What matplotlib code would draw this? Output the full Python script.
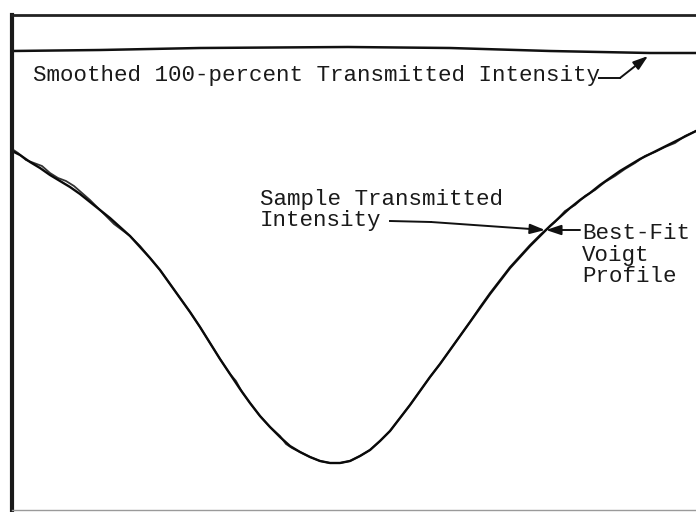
import matplotlib
matplotlib.use("Agg")
import matplotlib.pyplot as plt

# ---- data (position, transmitted intensity; arbitrary units) ----
fit_x = [0, 8, 18, 28, 38, 48, 58, 68, 78, 88, 98, 108, 118, 128, 138, 148, 158, 168,
         178, 188, 198, 208, 218, 228, 238, 248, 258, 268, 278, 288, 298, 308, 318, 328,
         338, 348, 358, 368, 378, 388, 398, 408, 418, 428, 438, 448, 458, 468, 478, 488,
         498, 508, 518, 528, 538, 548, 558, 568, 578, 588, 598, 608, 618, 628, 638, 648,
         658, 668, 678, 684]
fit_y = [359, 355, 348, 342, 335, 329, 323, 316, 308, 300, 292, 283, 274, 263, 252, 240,
         226, 212, 198, 183, 167, 151, 136, 121, 107, 94, 83, 73, 64, 58, 53, 49, 47, 47,
         49, 54, 60, 69, 79, 92, 105, 119, 133, 146, 160, 174, 188, 202, 216, 229, 242,
         253, 264, 274, 284, 293, 302, 310, 317, 325, 332, 339, 345, 351, 356, 361, 366,
         371, 376, 379]

sample_x = [0, 6, 14, 22, 30, 38, 46, 54, 62, 70, 78, 86, 94, 102, 110, 118, 128, 138,
            148, 158, 168, 178, 188, 198, 208, 218, 224, 230, 238, 248, 258, 268, 274,
            280, 288, 298, 308, 318, 328, 338, 348, 358, 368, 378, 388, 398, 408, 418,
            428, 438, 448, 458, 468, 478, 488, 498, 508, 518, 528, 536, 543, 553, 563,
            573, 583, 593, 603, 613, 623, 633, 643, 653, 663, 673, 684]
sample_y = [361, 357, 350, 347, 344, 337, 332, 329, 324, 317, 310, 302, 294, 286, 280,
            274, 264, 252, 240, 226, 212, 198, 183, 167, 151, 136, 129, 118, 107, 94, 83,
            74, 66, 62, 58, 53, 49, 47, 47, 49, 54, 60, 69, 79, 92, 105, 119, 133, 146,
            160, 174, 188, 203, 217, 230, 243, 254, 265, 275, 282, 288, 299, 305, 314,
            320, 328, 334, 341, 347, 354, 358, 363, 367, 374, 379]

ref_x = [0, 88, 188, 336, 438, 538, 638, 684]
ref_y = [459, 460, 462, 463, 462, 459, 457, 457]

label_ref = "Smoothed 100-percent Transmitted Intensity"
label_sample = "Sample Transmitted\nIntensity"
label_fit = "Best-Fit\nVoigt\nProfile"

# ---- figure ----
W, H = 696, 512
fig = plt.figure(figsize=(W / 100, H / 100), dpi=100)
ax = fig.add_axes([12 / W, 2 / H, 684 / W, 495 / H])
ax.set_xlim(0, 684)
ax.set_ylim(0, 495)
ax.set_xticks([])
ax.set_yticks([])
ax.spines["right"].set_visible(False)
ax.spines["left"].set_linewidth(3.0)
ax.spines["left"].set_color("#1a1a1a")
ax.spines["top"].set_linewidth(2.0)
ax.spines["top"].set_color("#222222")
ax.spines["bottom"].set_linewidth(1.0)
ax.spines["bottom"].set_color("#9a9a9a")

ax.plot(ref_x, ref_y, color="#111111", lw=1.8, solid_capstyle="butt")
ax.plot(sample_x, sample_y, color="#333333", lw=1.3)
ax.plot(fit_x, fit_y, color="#0a0a0a", lw=1.7)

font = dict(family=["Liberation Mono", "DejaVu Sans Mono"], fontsize=16.2,
            color="#1a1a1a")

ax.text(21, 434, label_ref, ha="left", va="center", **font)
ax.text(248, 300, label_sample, ha="left", va="center", linespacing=1.0, **font)
ax.text(570, 255, label_fit, ha="left", va="center", linespacing=1.05, **font)

arrow = dict(arrowstyle="-|>,head_length=0.9,head_width=0.3", color="#111111", lw=1.4,
             shrinkA=0, shrinkB=0)

# leader to the 100-percent line
ax.plot([587, 608], [432, 432], color="#111111", lw=1.4)
ax.annotate("", xy=(636, 454), xytext=(608, 432), arrowprops=arrow)

# leader to the sample curve
ax.plot([378, 419], [289, 288], color="#111111", lw=1.4)
ax.annotate("", xy=(533, 280), xytext=(419, 288), arrowprops=arrow)

# leader to the best-fit curve
ax.annotate("", xy=(534, 280), xytext=(568, 280), arrowprops=arrow)

fig.savefig("out.png", dpi=100, facecolor="white")
